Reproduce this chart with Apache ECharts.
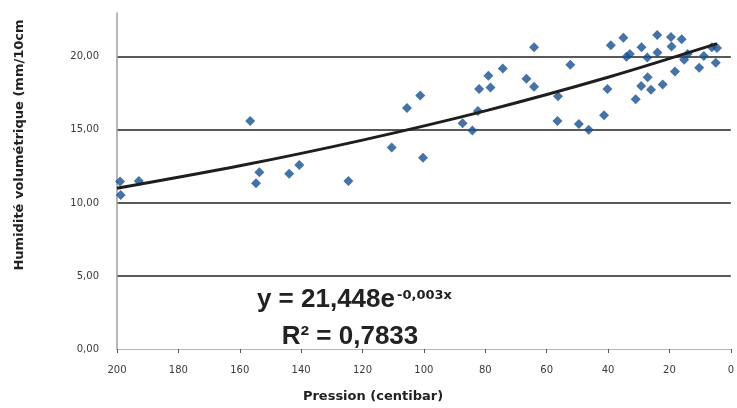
<!DOCTYPE html>
<html><head><meta charset="utf-8">
<script src="https://cdn.jsdelivr.net/npm/echarts@6/dist/echarts.min.js"></script>
<style>html,body{margin:0;padding:0;background:#fff}#c{width:737px;height:408px}</style>
</head><body><div id="c"></div>
<script>
// Data
const pressure = [199, 198.8, 192.9, 156.6, 153.6, 154.7, 143.9, 140.6, 124.6,
  110.5, 105.5, 101.2, 100.3, 87.4, 84.2, 82.4, 82.0, 78.3, 79.0, 74.3, 66.6, 64.1, 64.1,
  56.3, 56.5, 52.3, 49.5, 46.3, 41.3, 40.2, 39.1, 35.0, 34.0, 32.9, 31.0, 29.1, 29.2, 27.1, 27.2,
  26.0, 24.0, 23.9, 22.2, 19.5, 19.3, 18.2, 16.0, 15.2, 14.1, 10.3, 8.8, 6.2, 4.5, 4.9];
const humidity = [11.46, 10.55, 11.5, 15.6, 12.1, 11.35, 12.0, 12.6, 11.5,
  13.8, 16.5, 17.35, 13.1, 15.45, 14.95, 16.3, 17.8, 17.9, 18.7, 19.2, 18.5, 17.95, 20.65,
  17.3, 15.6, 19.45, 15.4, 15.0, 16.0, 17.8, 20.8, 21.3, 20.0, 20.2, 17.1, 20.65, 18.0, 18.6, 19.95,
  17.75, 21.5, 20.3, 18.1, 21.35, 20.7, 19.0, 21.2, 19.8, 20.2, 19.25, 20.05, 20.65, 20.6, 19.6];
const trendPressure = [200, 160, 120, 80, 40, 4.5];
const trendHumidity = [11.0, 12.54, 14.3, 16.3, 18.6, 20.9];
const xTicks = [0, 20, 40, 60, 80, 100, 120, 140, 160, 180, 200];
const yTicks = [0, 5, 10, 15, 20];
const yTop = 23;   // top of the visible plot area (picture is cropped there)
const xTitle = 'Pression (centibar)';
const yTitle = 'Humidité volumétrique (mm/10cm';
const eqMain = 'y = 21,448e';
const eqExp = '-0,003x';
const r2Text = 'R² = 0,7833';

const points = pressure.map((p, i) => [p, humidity[i]]);
const trend = trendPressure.map((p, i) => [p, trendHumidity[i]]);

const chart = echarts.init(document.getElementById('c'), null, {renderer: 'canvas'});
const labelFont = 'DejaVu Sans';
chart.setOption({
  animation: false,
  backgroundColor: '#fff',
  grid: {left: 117, right: 1, top: 13, bottom: 59},
  xAxis: {
    type: 'value', inverse: true,
    min: xTicks[0], max: xTicks[xTicks.length - 1], interval: xTicks[1] - xTicks[0],
    axisLine: {show: true, onZero: false, lineStyle: {color: '#a9b9cc', width: 1.2}},
    axisTick: {show: true, length: 4, lineStyle: {color: '#555'}},
    axisLabel: {color: '#3a3a3a', fontSize: 10, fontFamily: labelFont, margin: 16},
    splitLine: {show: false}
  },
  yAxis: {
    type: 'value', position: 'left',
    min: yTicks[0], max: yTop, interval: yTicks[1] - yTicks[0],
    axisLine: {show: true, onZero: false, lineStyle: {color: '#a0a0a0', width: 1.5}},
    axisTick: {show: false},
    axisLabel: {color: '#3a3a3a', fontSize: 10, fontFamily: labelFont, margin: 18,
      showMaxLabel: false,
      formatter: v => v.toFixed(2).replace('.', ',')},
    splitLine: {show: true, showMinLine: false, showMaxLine: false, lineStyle: {color: '#222', width: 1.5}}
  },
  series: [{
    type: 'scatter',
    data: points, symbol: 'diamond', symbolSize: 10,
    itemStyle: {color: '#17508f'}, z: 3
  }, {
    type: 'line',
    data: trend, smooth: 0.3, symbol: 'none',
    lineStyle: {color: '#1e1e1e', width: 3}, z: 4
  }],
  graphic: [
    {type: 'text', x: 395, y: 300, style: {text: eqMain, fill: '#222', font: 'bold 26px "Liberation Sans"', align: 'right', verticalAlign: 'middle'}},
    {type: 'text', x: 397, y: 296, style: {text: eqExp, fill: '#222', font: 'bold 13px "DejaVu Sans"', align: 'left', verticalAlign: 'middle'}},
    {type: 'text', x: 350, y: 337, style: {text: r2Text, fill: '#222', font: 'bold 26px "Liberation Sans"', align: 'center', verticalAlign: 'middle'}},
    {type: 'text', x: 373, y: 397, style: {text: xTitle, fill: '#222', font: 'bold 13px "DejaVu Sans"', align: 'center', verticalAlign: 'middle'}},
    {type: 'text', x: 20, y: 145, rotation: Math.PI / 2, style: {text: yTitle, fill: '#222', font: 'bold 13px "DejaVu Sans"', align: 'center', verticalAlign: 'middle'}}
  ]
});
</script></body></html>
